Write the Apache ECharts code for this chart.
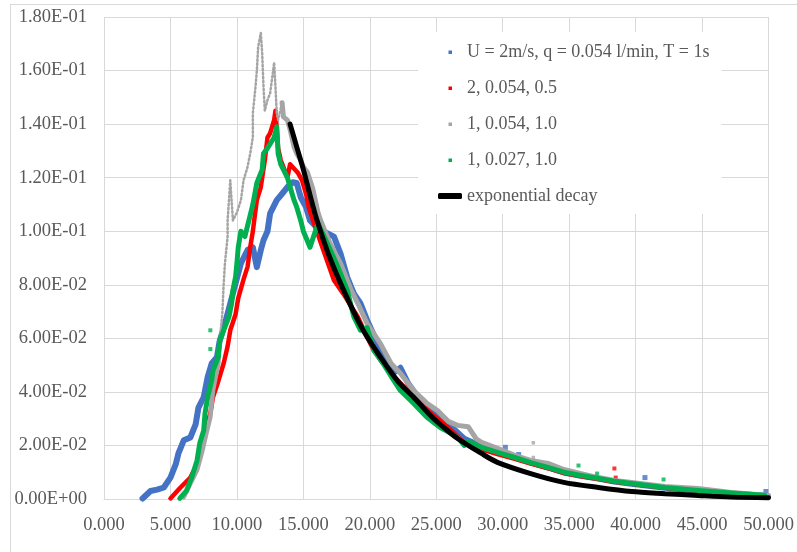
<!DOCTYPE html>
<html>
<head>
<meta charset="utf-8">
<script src="https://cdn.jsdelivr.net/npm/echarts@6/dist/echarts.min.js"></script>
<style>
  html, body { margin: 0; padding: 0; background: #fff; overflow: hidden; }
  #wrap { position: relative; width: 797px; height: 552px; }
  #chart { position: absolute; left: 0; top: 0; width: 797px; height: 552px; }
  #frame { position: absolute; left: 10px; top: 4px; width: 800px; height: 560px; border: 1px solid #d9d9d9; pointer-events: none; }
</style>
</head>
<body>
<div id="wrap">
  <div id="frame"></div>
  <div id="chart"></div>
</div>
<script>
// tick labels (Excel style)
const xLabels = ['0.000', '5.000', '10.000', '15.000', '20.000', '25.000', '30.000', '35.000', '40.000', '45.000', '50.000'];
const yLabels = ['0.00E+00', '2.00E-02', '4.00E-02', '6.00E-02', '8.00E-02', '1.00E-01', '1.20E-01', '1.40E-01', '1.60E-01', '1.80E-01'];

const names = ['U = 2m/s, q = 0.054 l/min, T = 1s', '2, 0.054, 0.5', '1, 0.054, 1.0', '1, 0.027, 1.0', 'exponential decay'];

// --- series: [x, y] ---
const blueData = [
  [2.9,0.0002],[3.5,0.003],[4.0,0.0035],[4.5,0.0043],[5.0,0.008],[5.4,0.013],[5.6,0.017],[6.0,0.0219],
  [6.5,0.023],[6.9,0.028],[7.1,0.034],[7.5,0.038],[7.8,0.0455],[8.1,0.0506],[8.5,0.053],[8.7,0.059],
  [9.1,0.0655],[9.5,0.073],[9.9,0.0806],[10.3,0.088],[10.8,0.093],[11.2,0.094],[11.5,0.0866],[11.8,0.093],
  [12.0,0.0966],[12.3,0.1],[12.5,0.1067],[13.0,0.1116],[13.4,0.114],[13.8,0.1165],[14.2,0.1183],[14.5,0.118],
  [14.8,0.1127],[15.2,0.109],[15.5,0.104],[15.9,0.102],[16.5,0.100],[17.3,0.098],[17.8,0.0916],[18.3,0.0828],
  [18.8,0.0767],[19.3,0.073],[19.8,0.0667],[20.6,0.058],[21.3,0.0518],[21.9,0.0475],[22.3,0.049],[22.9,0.043],
  [23.8,0.0368],[24.8,0.032],[25.9,0.028],[27.1,0.0225],[28.4,0.0197],[29.6,0.0178],[30.9,0.0158],[32.1,0.0137],
  [33.4,0.0118],[34.6,0.0099],[35.9,0.0087],[37.2,0.0076],[38.4,0.0065],[39.7,0.0057],[42.2,0.0042],[44.7,0.0031],
  [47.2,0.002],[49.7,0.0012]
];
const blueStray = [[30.2,0.0193],[31.2,0.0166],[40.7,0.008],[49.8,0.0028]];

const redData = [
  [5.0,0.0002],[5.7,0.004],[6.5,0.008],[7.0,0.013],[7.4,0.019],[7.6,0.0256],[8.0,0.032],[8.2,0.038],
  [8.6,0.044],[9.0,0.0506],[9.3,0.057],[9.5,0.063],[9.9,0.069],[10.1,0.075],[10.5,0.082],[10.8,0.0867],
  [11.0,0.094],[11.2,0.100],[11.3,0.104],[11.5,0.1116],[11.8,0.1165],[12.1,0.1265],[12.3,0.135],[12.5,0.1366],
  [12.8,0.1415],[12.9,0.145],[13.1,0.131],[13.3,0.1265],[13.5,0.124],[13.8,0.120],[14.0,0.125],[14.6,0.1217],
  [14.9,0.119],[15.2,0.114],[15.4,0.109],[15.8,0.103],[16.5,0.093],[17.3,0.0817],[18.0,0.0767],[19.1,0.068],
  [19.8,0.0604],[20.3,0.0555],[21.0,0.0506],[22.1,0.0443],[23.3,0.038],[24.6,0.032],[25.9,0.0267],[27.1,0.021],
  [28.4,0.0185],[29.6,0.0168],[30.9,0.015],[32.1,0.0132],[33.4,0.0115],[34.6,0.0097],[35.9,0.0085],[37.2,0.0075],
  [38.4,0.0064],[39.7,0.0057],[42.2,0.0042],[44.7,0.0031],[47.2,0.002],[49.7,0.0012]
];
const redStray = [[38.4,0.0114],[38.5,0.008]];

// grey: dense low part, sparse noisy peak, dense decay
const greyLow = [
  [6.0,0.0006],[6.5,0.0058],[7.0,0.0107],[7.4,0.018],[7.7,0.0245],[8.0,0.0305],[8.2,0.0405],[8.4,0.0455],
  [8.6,0.0506],[8.7,0.059]
];
const greyPeak = [
  [8.7,0.059],[8.9,0.069],[9.0,0.080],[9.1,0.088],[9.3,0.098],[9.3,0.104],[9.5,0.119],[9.7,0.104],
  [10.0,0.107],[10.3,0.1116],[10.5,0.119],[10.8,0.124],[11.0,0.129],[11.2,0.135],[11.2,0.144],[11.4,0.154],
  [11.5,0.160],[11.6,0.169],[11.8,0.174],[11.9,0.1665],[12.0,0.154],[12.1,0.145],[12.3,0.149],[12.5,0.1515],
  [12.7,0.159],[12.8,0.163],[12.9,0.154],[13.0,0.144],[13.1,0.1415],[13.4,0.148]
];
const greyDecay = [
  [13.4,0.148],[13.5,0.1427],[13.8,0.1415],[14.0,0.138],[14.3,0.1315],[14.5,0.129],[14.8,0.1265],[15.0,0.124],
  [15.3,0.122],[15.7,0.116],[16.1,0.107],[16.3,0.104],[17.0,0.0955],[17.8,0.088],[18.6,0.078],[19.1,0.073],
  [19.8,0.0655],[20.8,0.058],[21.6,0.0506],[22.3,0.047],[23.3,0.0405],[24.3,0.0357],[25.1,0.033],[25.9,0.029],
  [26.6,0.0275],[27.4,0.027],[28.0,0.0225],[28.4,0.0212],[29.6,0.0189],[30.9,0.0163],[32.1,0.0144],[33.4,0.0133],
  [34.6,0.011],[35.9,0.0095],[37.2,0.008],[38.4,0.0069],[39.7,0.0062],[42.2,0.0047],[44.7,0.0039],[47.2,0.0024],
  [50.0,0.0013]
];
const greyStray = [[32.3,0.021],[32.3,0.0155]];

const greenData = [
  [5.7,0.0002],[6.2,0.003],[6.6,0.008],[7.0,0.0144],[7.2,0.0207],[7.5,0.0256],[7.6,0.032],[7.8,0.038],
  [8.1,0.0443],[8.2,0.048],[8.6,0.053],[8.7,0.059],[9.0,0.063],[9.4,0.068],[9.6,0.073],[9.7,0.078],
  [9.9,0.083],[10.0,0.088],[10.1,0.094],[10.3,0.100],[10.6,0.098],[11.0,0.106],[11.2,0.110],[11.5,0.118],
  [11.9,0.123],[12.0,0.129],[12.3,0.131],[12.8,0.135],[13.0,0.139],[13.1,0.129],[13.3,0.125],[13.5,0.123],
  [13.8,0.120],[14.0,0.1165],[14.3,0.1116],[14.5,0.109],[14.8,0.104],[15.0,0.100],[15.5,0.094],[16.1,0.103],
  [16.8,0.0955],[17.6,0.0866],[18.3,0.078],[18.8,0.068],[19.3,0.063],[19.8,0.064],[20.3,0.0555],[21.0,0.0506],
  [21.8,0.0443],[22.3,0.0405],[23.3,0.0357],[24.3,0.0305],[25.3,0.0267],[26.1,0.0245],[26.7,0.0225],[27.1,0.020],
  [27.4,0.0215],[28.4,0.0193],[29.6,0.0174],[30.9,0.0155],[32.1,0.0136],[33.4,0.0118],[34.6,0.010],[35.9,0.0088],
  [37.2,0.0077],[38.4,0.0066],[39.7,0.0058],[42.2,0.0043],[44.7,0.0032],[47.2,0.0022],[49.7,0.0014]
];
const greenStray = [[8.0,0.063],[8.0,0.056],[35.7,0.0125],[37.1,0.0095],[42.1,0.0073]];

const decayData = [
  [14.0,0.140],[14.5,0.1315],[15.0,0.123],[15.5,0.1135],[16.0,0.1045],[17.0,0.090],[18.3,0.075],[19.5,0.063],
  [20.8,0.053],[22.1,0.044],[23.3,0.038],[24.6,0.031],[25.5,0.027],[26.6,0.0226],[28.4,0.017],[29.6,0.0137],
  [32.1,0.0095],[34.6,0.0062],[37.2,0.0043],[39.7,0.0028],[42.2,0.002],[44.7,0.0013],[47.2,0.0007],[50.0,0.0005]
];

const COLORS = ['#4472C4', '#FF0000', '#A5A5A5', '#00B050', '#000000'];
const TEXT = '#595959';
const GRID = '#d9d9d9';
const FONT = '"Liberation Serif", "Times New Roman", serif';

function trace(name, data, color, width, dash, z) {
  return {
    name, type: 'line', data, symbol: 'none', z, silent: true,
    lineStyle: { color, width, type: dash || 'solid', join: 'round', cap: 'round' },
    itemStyle: { color },
  };
}
function stray(name, data, color, size, z) {
  return { name, type: 'scatter', data, symbol: 'rect', symbolSize: size, z, silent: true, itemStyle: { color } };
}

const dot = 'path://M0,0M24,6M10.5,1.5h3.5v3.5h-3.5z';

const chart = echarts.init(document.getElementById('chart'), null, { renderer: 'canvas' });
chart.setOption({
  animation: false,
  grid: { left: 104, right: 28, top: 17, bottom: 53 },
  xAxis: {
    type: 'value', min: 0, max: 50, interval: 5,
    axisLine: { show: true, lineStyle: { color: GRID, width: 1 } },
    axisTick: { show: false },
    splitLine: { show: true, lineStyle: { color: GRID, width: 1 } },
    axisLabel: { color: TEXT, fontFamily: FONT, fontSize: 18.5, margin: 17,
      formatter: v => xLabels[Math.round(v / 5)] },
  },
  yAxis: {
    type: 'value', min: 0, max: 0.18, interval: 0.02,
    axisLine: { show: false },
    axisTick: { show: false },
    splitLine: { show: true, lineStyle: { color: GRID, width: 1 } },
    axisLabel: { color: TEXT, fontFamily: FONT, fontSize: 18.5, margin: 17,
      formatter: v => yLabels[Math.round(v / 0.02)] },
  },
  legend: {
    orient: 'vertical', left: 418, top: 32,
    backgroundColor: '#ffffff',
    padding: [10, 12, 8, 20],
    itemWidth: 24, itemHeight: 6, itemGap: 16,
    selectedMode: false,
    textStyle: { color: TEXT, fontFamily: FONT, fontSize: 18, lineHeight: 20 },
    data: [
      { name: names[0], icon: dot, itemStyle: { color: COLORS[0] } },
      { name: names[1], icon: dot, itemStyle: { color: COLORS[1] } },
      { name: names[2], icon: dot, itemStyle: { color: COLORS[2] } },
      { name: names[3], icon: dot, itemStyle: { color: COLORS[3] } },
      { name: names[4], icon: 'roundRect', itemStyle: { color: COLORS[4] } },
    ],
  },
  series: [
    trace(names[0], blueData, COLORS[0], 6, null, 1),
    stray(names[0], blueStray, COLORS[0], 5, 1),
    trace(names[1], redData, COLORS[1], 4.5, null, 2),
    stray(names[1], redStray, COLORS[1], 4, 2),
    trace(names[2], greyLow, COLORS[2], 4.5, null, 3),
    trace(names[2], greyPeak, COLORS[2], 2.5, [1.5, 2.5], 3),
    trace(names[2], greyDecay, COLORS[2], 5, null, 3),
    stray(names[2], greyStray, COLORS[2], 3.5, 3),
    trace(names[3], greenData, COLORS[3], 5, null, 4),
    stray(names[3], greenStray, COLORS[3], 4, 4),
    {
      name: names[4], type: 'line', data: decayData, symbol: 'none', smooth: 0.3, z: 5, silent: true,
      lineStyle: { color: COLORS[4], width: 5, cap: 'round' }, itemStyle: { color: COLORS[4] },
    },
  ],
});
</script>
</body>
</html>
